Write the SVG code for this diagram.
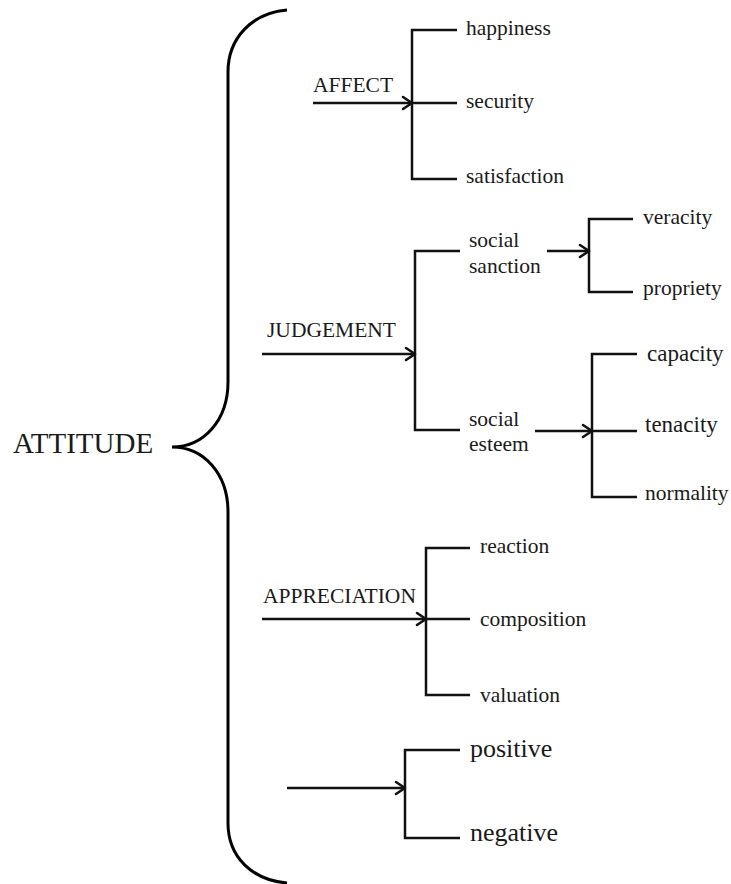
<svg xmlns="http://www.w3.org/2000/svg" width="731" height="884" viewBox="0 0 731 884">
  <defs>
    <marker id="arrow" markerUnits="userSpaceOnUse" markerWidth="16" markerHeight="16" refX="13" refY="8" orient="auto">
      <path d="M4 2 L13 8 L4 14" fill="none" stroke="#111" stroke-width="2.6" stroke-linecap="round" stroke-linejoin="round"/>
    </marker>
  </defs>
  <style>
    text { font-family: "Liberation Serif", "Times New Roman", serif; font-size: 21.5px; fill: #1a1a1a; }
    .big { font-size: 29px; }
    .pol { font-size: 26px; }
    .mid { font-size: 23px; }
    .ln { fill: none; stroke: #111; stroke-width: 2.5; }
    .arr { fill: none; stroke: #111; stroke-width: 2.6; marker-end: url(#arrow); }
    .brace { fill: none; stroke: #000; stroke-width: 3; }
  </style>
  <rect width="731" height="884" fill="#fff"/>

  <!-- root label and curly brace -->
  <g id="attitude">
    <text class="big" x="13" y="453">ATTITUDE</text>
    <path class="brace" d="M287 10 C252 13 228 38 228 72 L228 382 C228 420 204 447 172 447 C204 447 228 474 228 512 L228 823 C228 857 252 880 287 883"/>
  </g>

  <!-- connectors -->
  <g id="connectors">
    <!-- AFFECT -->
    <line class="arr" x1="313" y1="103" x2="412" y2="103"/>
    <path class="ln" d="M457 30 H412 V179 H457 M412 103 H457"/>
    <!-- JUDGEMENT -->
    <line class="arr" x1="262" y1="354" x2="415" y2="354"/>
    <path class="ln" d="M460 251 H415 V430 H460"/>
    <line class="arr" x1="547" y1="251" x2="589" y2="251"/>
    <path class="ln" d="M633 219 H589 V292 H633"/>
    <line class="arr" x1="535" y1="431" x2="592" y2="431"/>
    <path class="ln" d="M637 354 H592 V497 H637 M592 431 H637"/>
    <!-- APPRECIATION -->
    <line class="arr" x1="262" y1="619" x2="426" y2="619"/>
    <path class="ln" d="M470 548 H426 V695 H470 M426 619 H470"/>
    <!-- polarity -->
    <line class="arr" x1="287" y1="788" x2="405" y2="788"/>
    <path class="ln" d="M460 750 H405 V838 H460"/>
  </g>

  <g id="affect">
    <text x="313" y="92">AFFECT</text>
  </g>
  <g id="happiness"><text x="466" y="35">happiness</text></g>
  <g id="security"><text x="466" y="108">security</text></g>
  <g id="satisfaction"><text x="466" y="183">satisfaction</text></g>

  <g id="judgement">
    <text x="267" y="337">JUDGEMENT</text>
  </g>
  <g id="social-sanction">
    <text x="469" y="247">social</text>
    <text x="469" y="273">sanction</text>
  </g>
  <g id="veracity"><text x="643" y="224">veracity</text></g>
  <g id="propriety"><text x="643" y="295">propriety</text></g>
  <g id="social-esteem">
    <text x="469" y="426">social</text>
    <text x="469" y="451">esteem</text>
  </g>
  <g id="capacity"><text class="mid" x="647" y="361">capacity</text></g>
  <g id="tenacity"><text class="mid" x="645" y="432">tenacity</text></g>
  <g id="normality"><text x="645" y="500">normality</text></g>

  <g id="appreciation">
    <text x="263" y="603">APPRECIATION</text>
  </g>
  <g id="reaction"><text x="480" y="553">reaction</text></g>
  <g id="composition"><text x="480" y="626">composition</text></g>
  <g id="valuation"><text x="480" y="702">valuation</text></g>

  <g id="positive"><text class="pol" x="470" y="757">positive</text></g>
  <g id="negative"><text class="pol" x="470" y="841">negative</text></g>
</svg>
